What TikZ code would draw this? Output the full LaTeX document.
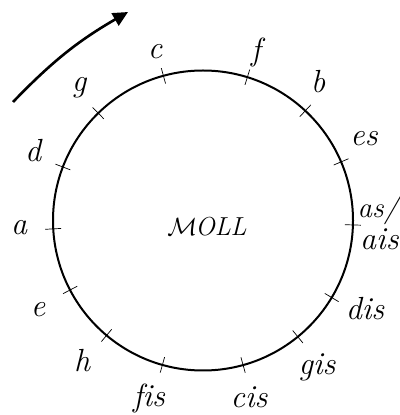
\documentclass[tikz,border=0pt]{standalone}
\usetikzlibrary{arrows.meta,calc}
\begin{document}
\begin{tikzpicture}[x=1pt,y=1pt,
  lbl/.style={font=\fontsize{32}{34}\selectfont\itshape, inner sep=0pt, anchor=center},
  tickmark/.style={line width=0.7pt},
  ring/.style={line width=2pt},
  turn/.style={line width=2.6pt, -{Triangle[length=15pt,width=14pt]}}]
\useasboundingbox (0,0) rectangle (399,415);
\coordinate (O) at (203,194.5);
\draw[ring] (O) circle (150);
\foreach \n/\ang in {c/105.3, f/72.8, b/47.0, es/23.0, as/-1.7, dis/-30.9, gis/-50.8, cis/-74.5, fis/-105.7, h/-130, e/-152.4, a/183.2, d/159.1, g/134.3}{
  \coordinate (t\n1) at ($(O)+(\ang:142)$);
  \coordinate (t\n2) at ($(O)+(\ang:158)$);
  \draw[tickmark] (t\n1) -- (t\n2);
}
\node[lbl] (lc) at (155,363) {c};
\node[lbl] (lf) at (256,362) {f};
\node[lbl] (lb) at (318,333) {b};
\node[lbl] (les) at (364,276) {es};
\node[lbl, anchor=east, font=\fontsize{29}{31}\selectfont\itshape] (las) at (398.5,205) {as/};
\node[lbl, anchor=west] (lais) at (360,176) {ais};
\node[lbl] (ldis) at (365,106) {dis};
\node[lbl] (lgis) at (317,48) {gis};
\node[lbl] (lcis) at (249,18) {cis};
\node[lbl] (lfis) at (149,17) {\mbox{f}\mbox{is}};
\node[lbl] (lh) at (82,54) {h};
\node[lbl] (le) at (38,105) {e};
\node[lbl] (la) at (19,187) {a};
\node[lbl] (ld) at (33,264) {d};
\node[lbl] (lg) at (79,327) {g};
\node[inner sep=0pt] (moll) at (207,188) {\fontsize{38}{40}\selectfont$\mathcal{M}$\kern-2pt\fontsize{26}{28}\selectfont\itshape OLL};
\coordinate (arrS) at (13,313);
\coordinate (arrE) at (128,403);
\draw[turn] (arrS) to[bend left=8] (arrE);
\end{tikzpicture}
\end{document}
